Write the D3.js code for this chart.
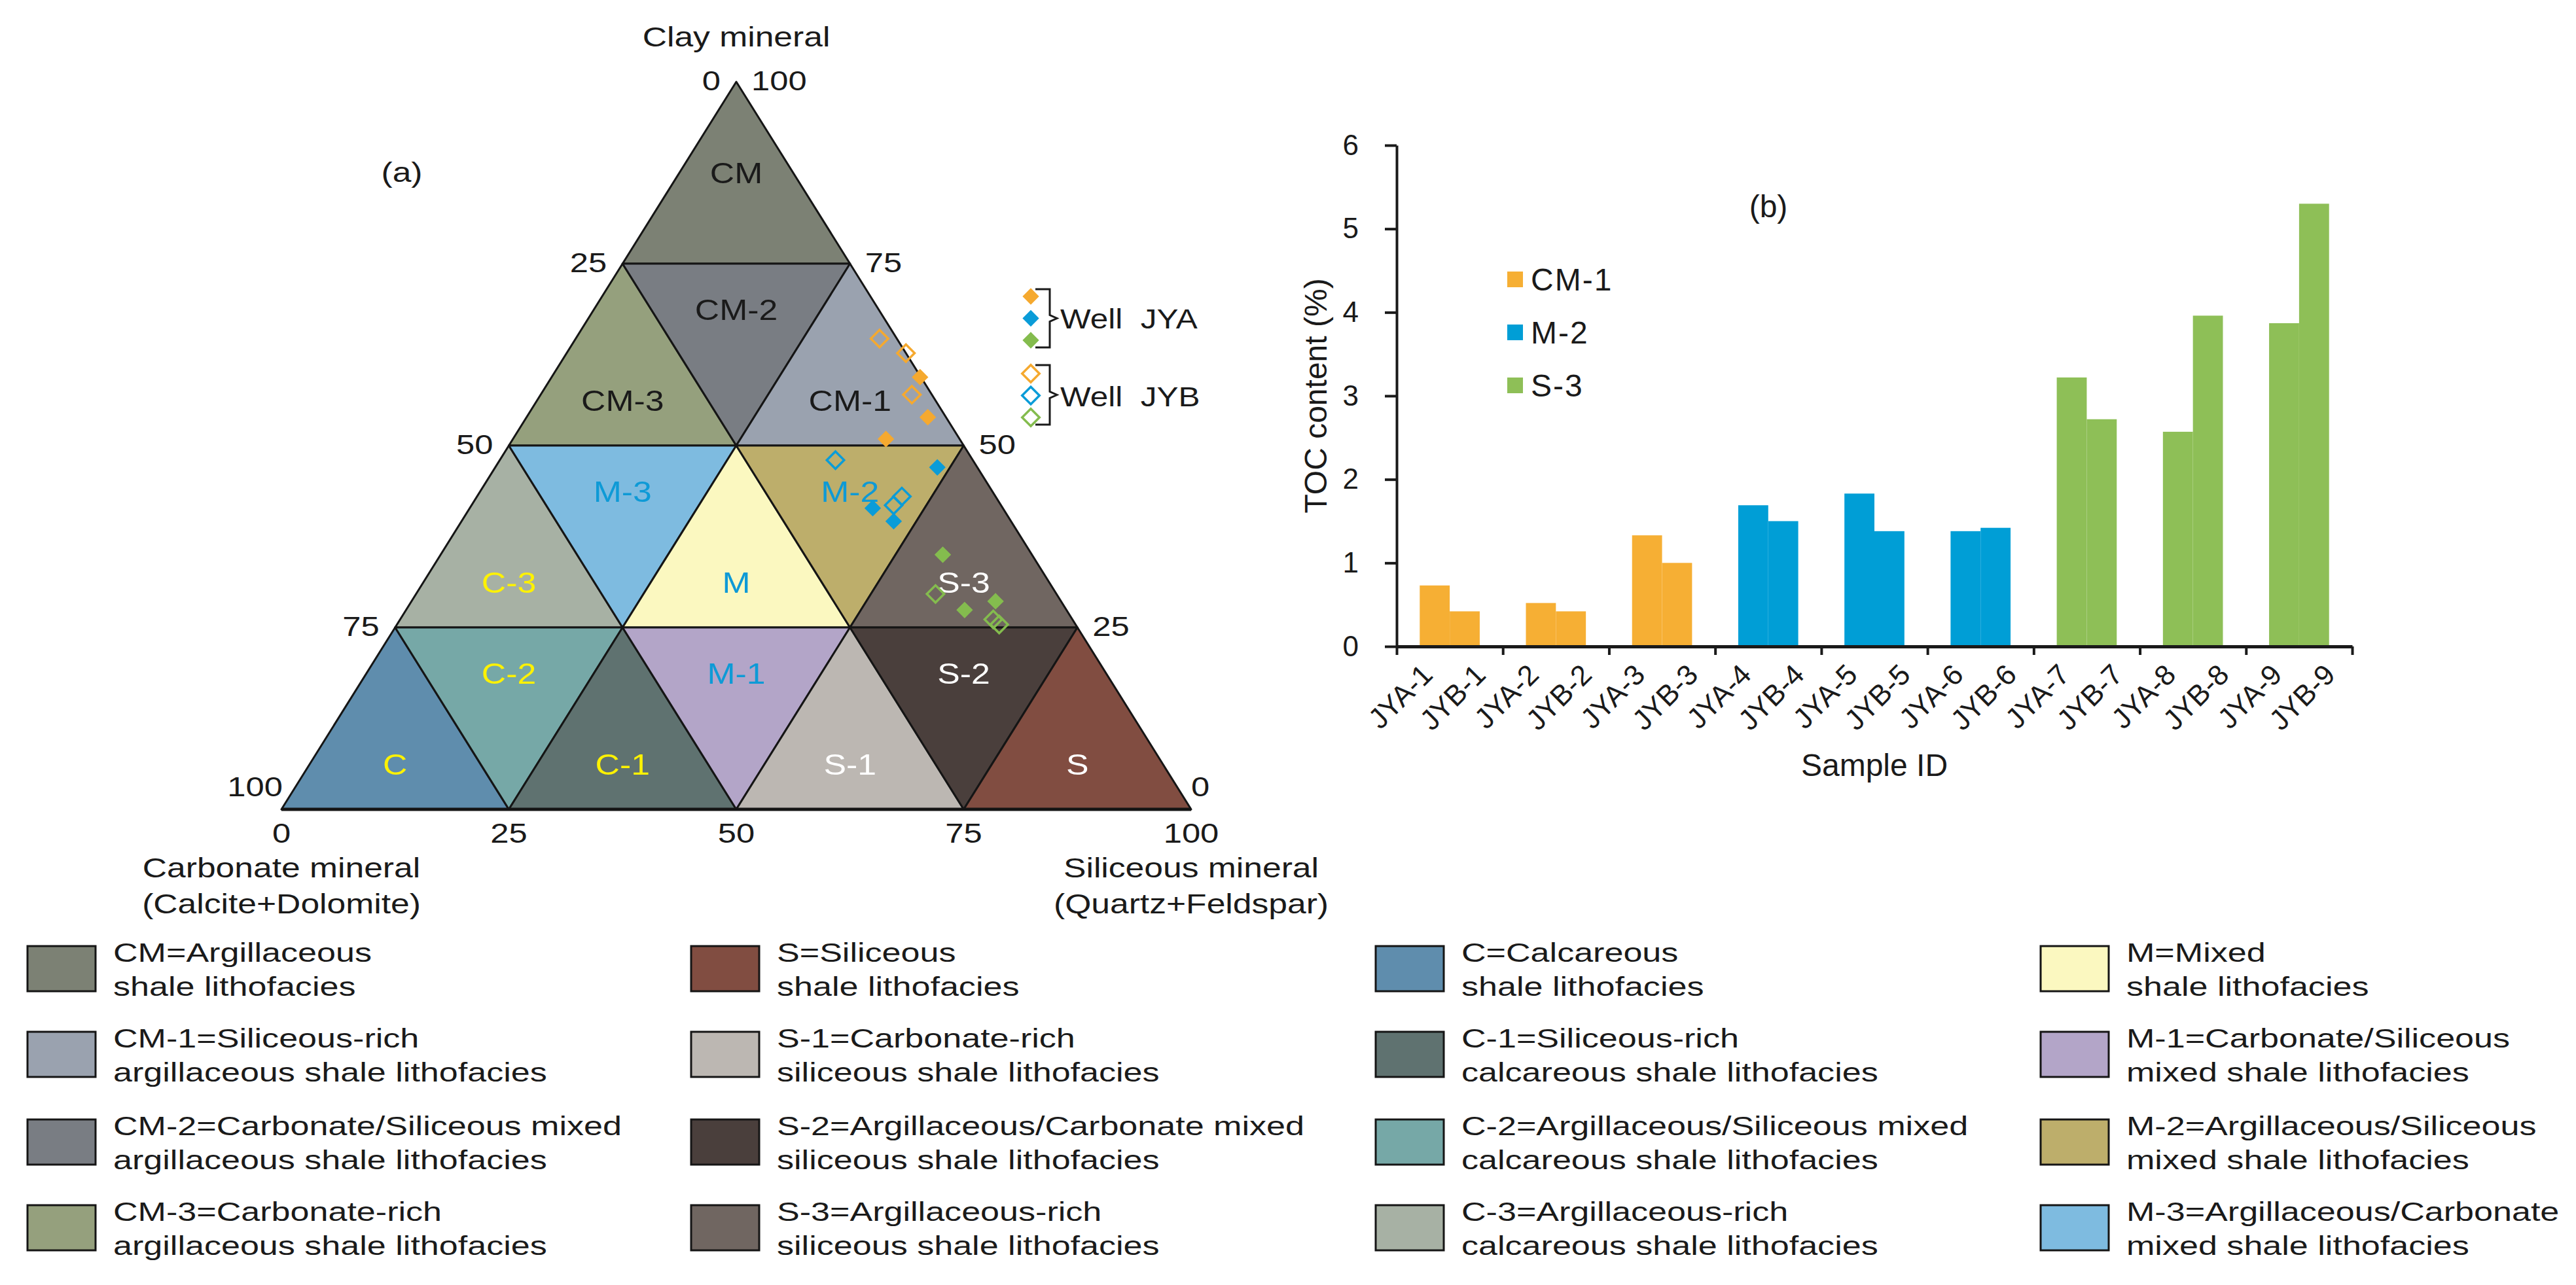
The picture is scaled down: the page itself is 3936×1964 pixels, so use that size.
<!DOCTYPE html>
<html>
<head>
<meta charset="utf-8">
<script src="https://cdn.jsdelivr.net/npm/d3@7"></script>
<style>
  body { margin: 0; background: #fff; }
  svg { display: block; font-family: "Liberation Sans", Arial, sans-serif; }
</style>
</head>
<body>
<div id="chart"></div>
<script>
// ternary cells, listed row by row from the apex, left to right
const cellCodes = ["CM", "CM-3", "CM-2", "CM-1", "C-3", "M-3", "M", "M-2", "S-3", "C", "C-2", "C-1", "M-1", "S-1", "S-2", "S"];

// lithofacies legend (column order)
const faciesCodes = ["CM", "CM-1", "CM-2", "CM-3", "S", "S-1", "S-2", "S-3", "C", "C-1", "C-2", "C-3", "M", "M-1", "M-2", "M-3"];
const faciesColors = ["#7c8174", "#9aa2af", "#797d83", "#95a07d", "#814d41", "#bcb7b2", "#4a3f3c", "#706661",
                      "#5f8dad", "#5f7270", "#76a8a7", "#a7b1a4", "#fbf8c0", "#b3a5c8", "#bdae6b", "#7ebbe0"];
const faciesLine1 = ["CM=Argillaceous", "CM-1=Siliceous-rich", "CM-2=Carbonate/Siliceous mixed", "CM-3=Carbonate-rich",
                     "S=Siliceous", "S-1=Carbonate-rich", "S-2=Argillaceous/Carbonate mixed", "S-3=Argillaceous-rich",
                     "C=Calcareous", "C-1=Siliceous-rich", "C-2=Argillaceous/Siliceous mixed", "C-3=Argillaceous-rich",
                     "M=Mixed", "M-1=Carbonate/Siliceous", "M-2=Argillaceous/Siliceous", "M-3=Argillaceous/Carbonate"];
const faciesLine2 = ["shale lithofacies", "argillaceous shale lithofacies", "argillaceous shale lithofacies", "argillaceous shale lithofacies",
                     "shale lithofacies", "siliceous shale lithofacies", "siliceous shale lithofacies", "siliceous shale lithofacies",
                     "shale lithofacies", "calcareous shale lithofacies", "calcareous shale lithofacies", "calcareous shale lithofacies",
                     "shale lithofacies", "mixed shale lithofacies", "mixed shale lithofacies", "mixed shale lithofacies"];

const edgeTicks = [0, 25, 50, 75, 100];

// sample composition (%) - clay and siliceous, carbonate is the rest
const jyaClay = [59.4, 53.9, 50.9, 47.0, 41.4, 39.6, 35.0, 28.6, 27.4];
const jyaSil  = [40.5, 44.1, 41.0, 48.6, 44.3, 47.5, 55.2, 64.2, 61.4];
const jybClay = [64.7, 62.7, 57.0, 48.0, 43.0, 41.8, 29.6, 26.1, 25.4];
const jybSil  = [33.4, 37.3, 40.8, 36.9, 46.7, 46.4, 57.1, 65.2, 66.2];
const sampleFacies = ["CM-1", "CM-1", "CM-1", "M-2", "M-2", "M-2", "S-3", "S-3", "S-3"];

// TOC content (%)
const sampleNums = ["1", "2", "3", "4", "5", "6", "7", "8", "9"];
const wells = ["JYA", "JYB"];
const tocJYA = [0.73, 0.52, 1.33, 1.69, 1.83, 1.38, 3.22, 2.57, 3.87];
const tocJYB = [0.42, 0.42, 1.00, 1.50, 1.38, 1.42, 2.72, 3.96, 5.30];
const tocTicks = [0, 1, 2, 3, 4, 5, 6];
const groupFacies = ["CM-1", "M-2", "S-3"];
const groupColors = ["#f6af34", "#009ed6", "#8ebf57"];
const markerColors = ["#f5a92f", "#0a9cd8", "#84bc4e"];

const faciesColor = new Map(faciesCodes.map((c, i) => [c, faciesColors[i]]));
const groupColor = new Map(groupFacies.map((c, i) => [c, groupColors[i]]));
const markerColor = new Map(groupFacies.map((c, i) => [c, markerColors[i]]));
const labelColor = { CM: "#1a1a1a", C: "#fff200", M: "#0e9ad6", S: "#ffffff" };

const svg = d3.select("#chart").append("svg")
  .attr("width", 3936)
  .attr("height", 1964);

// text drawn a bit wider than Liberation Sans, like the original figure
function stext(g, x, y, str, size, anchor, sx, dy) {
  return g.append("text")
    .attr("transform", `translate(${x},${y}) scale(${sx},1)`)
    .attr("text-anchor", anchor)
    .attr("dy", dy || 0)
    .style("font-size", size + "px")
    .attr("fill", "#1a1a1a")
    .text(str);
}

// ---------- (a) ternary diagram ----------
const tern = svg.append("g");
const tx = d3.scaleLinear().domain([0, 100]).range([430, 1820]);
const ty = d3.scaleLinear().domain([0, 100]).range([1237, 125]);
const pt = (clay, sil) => [tx(sil + clay / 2), ty(clay)];

const cells = [];
let k = 0;
for (let r = 0; r < 4; r++) {
  const lo = 75 - 25 * r, hi = 100 - 25 * r;
  for (let j = 0; j <= 2 * r; j++) {
    const i = Math.floor(j / 2);
    const up = j % 2 === 0;
    const verts = up
      ? [pt(lo, 25 * i), pt(lo, 25 * (i + 1)), pt(hi, 25 * i)]
      : [pt(hi, 25 * i), pt(hi, 25 * (i + 1)), pt(lo, 25 * (i + 1))];
    cells.push({ code: cellCodes[k++], verts: verts, up: up, row: r, top: ty(hi), bot: ty(lo) });
  }
}

tern.selectAll("path.cell")
  .data(cells)
  .join("path")
  .attr("class", "cell")
  .attr("d", d => "M" + d.verts.join("L") + "Z")
  .attr("fill", d => faciesColor.get(d.code))
  .attr("stroke", "#151515")
  .attr("stroke-width", 3)
  .attr("stroke-linejoin", "round");

// heavier base line
tern.append("line")
  .attr("x1", pt(0, 0)[0]).attr("x2", pt(0, 100)[0])
  .attr("y1", pt(0, 0)[1]).attr("y2", pt(0, 0)[1])
  .attr("stroke", "#151515").attr("stroke-width", 5);

cells.forEach(d => {
  const x = d.verts[2][0];
  const frac = d.up ? (d.row === 0 ? 0.5 : 0.75) : 0.25;
  const y = d.top + frac * (d.bot - d.top);
  stext(tern, x, y, d.code, 45, "middle", 1.15, "0.36em")
    .attr("fill", labelColor[d.code.split("-")[0]]);
});

// edge tick labels
edgeTicks.forEach(t => {
  const [bx, by] = pt(0, t);
  stext(tern, bx, by + 51, t, 43, "middle", 1.18);

  const [lx, ly] = pt(100 - t, 0);
  if (t === 100) stext(tern, lx + 2, ly - 35, t, 43, "end", 1.18, "0.36em");
  else stext(tern, lx - 24, ly - 2, t, 43, "end", 1.18, "0.36em");

  const [rx, ry] = pt(t, 100 - t);
  if (t === 0) stext(tern, rx, ry - 35, t, 43, "start", 1.18, "0.36em");
  else stext(tern, rx + 23, ry - 2, t, 43, "start", 1.18, "0.36em");
});

// axis titles
stext(tern, pt(100, 0)[0], 71, "Clay mineral", 43, "middle", 1.2);
stext(tern, pt(0, 0)[0], 1341, "Carbonate mineral", 43, "middle", 1.2);
stext(tern, pt(0, 0)[0], 1396, "(Calcite+Dolomite)", 43, "middle", 1.2);
stext(tern, pt(0, 100)[0], 1341, "Siliceous mineral", 43, "middle", 1.2);
stext(tern, pt(0, 100)[0], 1396, "(Quartz+Feldspar)", 43, "middle", 1.2);
stext(tern, 614, 278, "(a)", 43, "middle", 1.2);

// sample markers
const diamond = size => d3.symbol().type(d3.symbolSquare).size(size)();

tern.selectAll("path.jyb")
  .data(jybClay.map((c, i) => ({ clay: c, sil: jybSil[i], facies: sampleFacies[i] })))
  .join("path")
  .attr("class", "jyb")
  .attr("d", diamond(350))
  .attr("transform", d => `translate(${pt(d.clay, d.sil)}) rotate(45)`)
  .attr("fill", "none")
  .attr("stroke", d => markerColor.get(d.facies))
  .attr("stroke-width", 3.5);

tern.selectAll("path.jya")
  .data(jyaClay.map((c, i) => ({ clay: c, sil: jyaSil[i], facies: sampleFacies[i] })))
  .join("path")
  .attr("class", "jya")
  .attr("d", diamond(320))
  .attr("transform", d => `translate(${pt(d.clay, d.sil)}) rotate(45)`)
  .attr("fill", d => markerColor.get(d.facies));

// marker legend
const mk = tern.append("g");
groupFacies.forEach((f, i) => {
  mk.append("path").attr("d", diamond(320))
    .attr("transform", `translate(1575,${453 + i * 33.5}) rotate(45)`)
    .attr("fill", markerColor.get(f));
  mk.append("path").attr("d", diamond(350))
    .attr("transform", `translate(1575,${571 + i * 33.5}) rotate(45)`)
    .attr("fill", "none")
    .attr("stroke", markerColor.get(f))
    .attr("stroke-width", 3.5);
});
[[442, 531], [558, 649]].forEach(([y0, y1]) => {
  const ym = (y0 + y1) / 2;
  mk.append("path")
    .attr("d", `M1582,${y0}H1604V${ym - 5}L1615,${ym}L1604,${ym + 5}V${y1}H1582`)
    .attr("fill", "none").attr("stroke", "#1a1a1a").attr("stroke-width", 3);
});
stext(mk, 1620, 502, "Well  JYA", 43, "start", 1.15).style("white-space", "pre");
stext(mk, 1620, 621, "Well  JYB", 43, "start", 1.15).style("white-space", "pre");

// ---------- lithofacies legend ----------
const colX = [42, 1056, 2102, 3118];
const rowY = [1446, 1577, 1711, 1842];
const leg = svg.append("g");
faciesCodes.forEach((code, i) => {
  const x = colX[Math.floor(i / 4)], y = rowY[i % 4];
  leg.append("rect")
    .attr("x", x).attr("y", y)
    .attr("width", 104).attr("height", 69)
    .attr("fill", faciesColor.get(code))
    .attr("stroke", "#151515").attr("stroke-width", 3);
  stext(leg, x + 131, y + 24, faciesLine1[i], 41, "start", 1.27);
  stext(leg, x + 131, y + 76, faciesLine2[i], 41, "start", 1.27);
});

// ---------- (b) TOC bar chart ----------
const bar = svg.append("g");
const x0 = d3.scaleBand().domain(sampleNums).range([2134, 3594]);
const x1 = d3.scaleBand().domain(wells).range([0, x0.bandwidth()]).paddingOuter(0.77);
const xb = d3.scaleLinear().domain([0, sampleNums.length]).range([2134, 3594]);
const y = d3.scaleLinear().domain([0, 6]).range([988, 222]);

const rows = [];
sampleNums.forEach((s, i) => {
  rows.push({ s: s, well: "JYA", v: tocJYA[i], facies: sampleFacies[i] });
  rows.push({ s: s, well: "JYB", v: tocJYB[i], facies: sampleFacies[i] });
});
const xl = d3.scaleBand().domain(rows.map(d => `${d.well}-${d.s}`)).range([2134, 3594]);

bar.selectAll("rect.bar")
  .data(rows)
  .join("rect")
  .attr("class", "bar")
  .attr("x", d => x0(d.s) + x1(d.well))
  .attr("y", d => y(d.v))
  .attr("width", x1.bandwidth())
  .attr("height", d => y(0) - y(d.v))
  .attr("fill", d => groupColor.get(d.facies));

// y axis
const yAxis = bar.append("g")
  .attr("transform", "translate(2134,0)")
  .call(d3.axisLeft(y).tickValues(tocTicks).tickFormat(d3.format("d"))
    .tickSize(18).tickSizeOuter(0).tickPadding(40));
yAxis.select(".domain").attr("stroke", "#1a1a1a").attr("stroke-width", 4);
yAxis.selectAll(".tick line").attr("stroke", "#1a1a1a").attr("stroke-width", 4);
yAxis.selectAll(".tick text")
  .attr("fill", "#1a1a1a")
  .style("font-family", "'Liberation Sans', Arial, sans-serif")
  .style("font-size", "44px");

// x axis with ticks between samples
const xAxis = bar.append("g")
  .attr("transform", "translate(0,988)")
  .call(d3.axisBottom(xb).tickValues(d3.range(sampleNums.length + 1)).tickSize(13).tickSizeOuter(0).tickFormat(""));
xAxis.select(".domain").attr("stroke", "#1a1a1a").attr("stroke-width", 5);
xAxis.selectAll(".tick line").attr("stroke", "#1a1a1a").attr("stroke-width", 4);

bar.selectAll("text.xlab")
  .data(rows)
  .join("text")
  .attr("class", "xlab")
  .attr("transform", d => {
    const id = `${d.well}-${d.s}`;
    return `translate(${xl(id) + xl.bandwidth() / 2 + 17},1034) rotate(-45)`;
  })
  .attr("text-anchor", "end")
  .attr("fill", "#1a1a1a")
  .style("font-size", "44px")
  .text(d => `${d.well}-${d.s}`);

bar.append("text")
  .attr("x", (2134 + 3594) / 2)
  .attr("y", 1186)
  .attr("text-anchor", "middle")
  .attr("fill", "#1a1a1a")
  .style("font-size", "48px")
  .text("Sample ID");

bar.append("text")
  .attr("transform", "translate(2027,605) rotate(-90)")
  .attr("text-anchor", "middle")
  .attr("fill", "#1a1a1a")
  .style("font-size", "48px")
  .text("TOC content (%)");

bar.append("text")
  .attr("x", 2702).attr("y", 332)
  .attr("text-anchor", "middle")
  .attr("fill", "#1a1a1a")
  .style("font-size", "48px")
  .text("(b)");

// bar legend
groupFacies.forEach((f, i) => {
  bar.append("rect")
    .attr("x", 2303).attr("y", 415 + i * 81)
    .attr("width", 24).attr("height", 24)
    .attr("fill", groupColor.get(f));
  bar.append("text")
    .attr("x", 2339).attr("y", 444 + i * 81)
    .attr("fill", "#1a1a1a")
    .style("font-size", "48px")
    .style("letter-spacing", "2px")
    .text(f);
});
</script>
</body>
</html>
